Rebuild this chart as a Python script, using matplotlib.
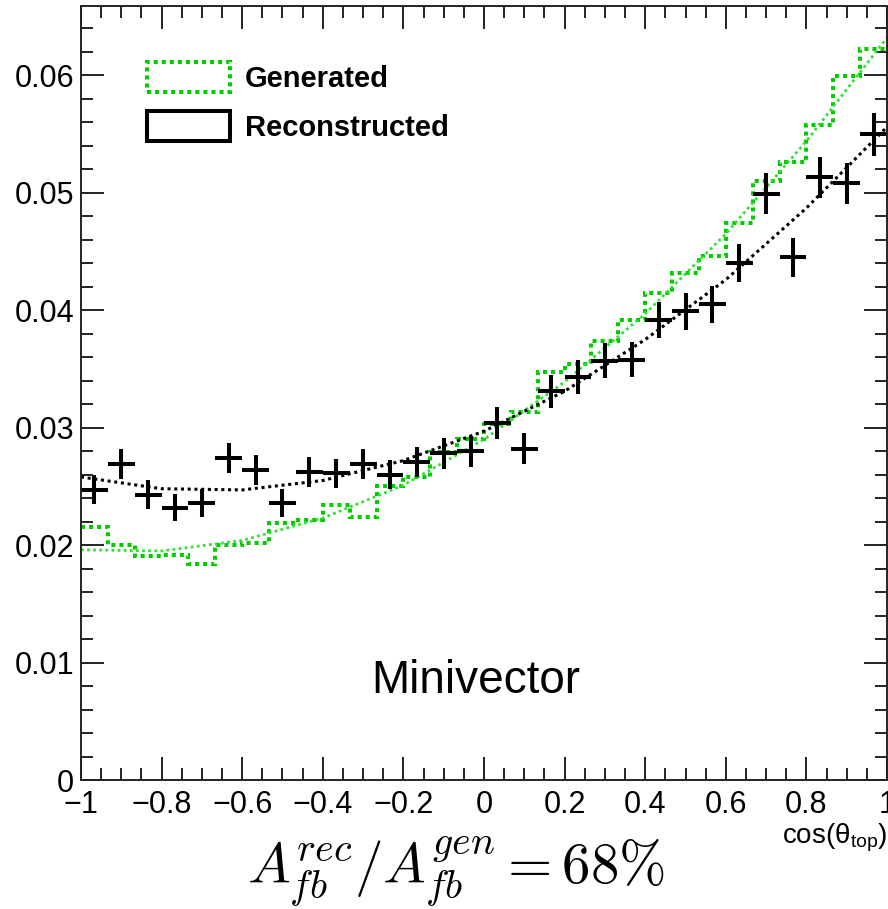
import numpy as np
import matplotlib.pyplot as plt
from matplotlib.patches import Rectangle
from matplotlib.ticker import MultipleLocator, FuncFormatter

plt.rcParams['font.family'] = ['Liberation Sans', 'DejaVu Sans']
plt.rcParams['mathtext.fontset'] = 'custom'
plt.rcParams['mathtext.rm'] = 'Liberation Sans'
plt.rcParams['mathtext.it'] = 'Liberation Sans:italic'

# 30 bins in cos(theta_top)
bin_edges = np.linspace(-1, 1, 31)

generated = [0.0215, 0.0200, 0.0191, 0.0192, 0.0184, 0.0200, 0.0202, 0.0219, 0.0221, 0.0234,
             0.0224, 0.0250, 0.0258, 0.0279, 0.0290, 0.0303, 0.0313, 0.0347, 0.0354, 0.0374,
             0.0392, 0.0415, 0.0432, 0.0446, 0.0474, 0.0510, 0.0526, 0.0558, 0.0599, 0.0622]

reconstructed = [0.0247, 0.0269, 0.0243, 0.0232, 0.0236, 0.0274, 0.0264, 0.0236, 0.0262, 0.0261,
                 0.0269, 0.0260, 0.0271, 0.0278, 0.0280, 0.0304, 0.0282, 0.0331, 0.0343, 0.0357,
                 0.0358, 0.0392, 0.0399, 0.0405, 0.0440, 0.0499, 0.0445, 0.0513, 0.0508, 0.0550]

rec_err = [0.00123, 0.00128, 0.00122, 0.00119, 0.00120, 0.00129, 0.00127, 0.00120, 0.00126, 0.00126,
           0.00128, 0.00126, 0.00128, 0.00130, 0.00131, 0.00136, 0.00131, 0.00142, 0.00144, 0.00147,
           0.00148, 0.00154, 0.00156, 0.00157, 0.00164, 0.00174, 0.00165, 0.00177, 0.00176, 0.00183]

# fit curves
fit_x = [-1.0, -0.8, -0.6, -0.4, -0.2, 0.0, 0.2, 0.4, 0.6, 0.8, 1.0]
gen_fit = [0.0196, 0.0195, 0.0204, 0.0223, 0.0251, 0.0290, 0.0339, 0.0397, 0.0465, 0.0544, 0.0632]
rec_fit = [0.0258, 0.0248, 0.0247, 0.0255, 0.0272, 0.0297, 0.0331, 0.0375, 0.0426, 0.0487, 0.0556]

centers = 0.5 * (bin_edges[:-1] + bin_edges[1:])
half_w = 0.5 * (bin_edges[1] - bin_edges[0])

green = '#00cc00'

fig = plt.figure(figsize=(8.88, 9.09), dpi=100)
ax = fig.add_axes([0.0912, 0.1419, 0.9077, 0.8515])

ax.stairs(generated, bin_edges, baseline=None, color=green, lw=2.9, linestyle=(0, (1, 1)))
ax.plot(fit_x, gen_fit, color='#33e033', lw=2.0, linestyle=(0, (1, 1.2)))
ax.plot(fit_x, rec_fit, color='black', lw=2.2, linestyle=(0, (1, 1.2)))
ax.errorbar(centers, reconstructed, yerr=rec_err, xerr=half_w, fmt='none',
            ecolor='black', elinewidth=2.9, capsize=0)

ax.set_xlim(-1, 1)
ax.set_ylim(0, 0.0659)
ax.xaxis.set_major_locator(MultipleLocator(0.2))
ax.xaxis.set_minor_locator(MultipleLocator(0.05))
ax.yaxis.set_major_locator(MultipleLocator(0.01))
ax.yaxis.set_minor_locator(MultipleLocator(0.002))


def fmt(v, pos):
    if abs(v) < 1e-9:
        return '0'
    return f'{round(v, 3):g}'.replace('-', '\u2212')


ax.xaxis.set_major_formatter(FuncFormatter(fmt))
ax.yaxis.set_major_formatter(FuncFormatter(fmt))

for s in ax.spines.values():
    s.set_linewidth(1.4)
    s.set_color('#222222')
ax.tick_params(which='both', direction='in', top=True, right=True, width=1.4, color='#222222')
ax.tick_params(which='major', length=16.5)
ax.tick_params(which='minor', length=8.6)
ax.tick_params(axis='x', labelsize=22, pad=7)
ax.tick_params(axis='y', labelsize=22, pad=5)

h_gen = Rectangle((0, 0), 1, 1, facecolor='none', edgecolor=green, lw=2.9, linestyle=(0, (1, 1)))
h_rec = Rectangle((0, 0), 1, 1, facecolor='none', edgecolor='black', lw=2.9)
ax.legend([h_gen, h_rec], ['Generated', 'Reconstructed'], loc='upper left',
          bbox_to_anchor=(0.0819, 0.9276), frameon=False,
          prop={'weight': 'bold', 'size': 21}, handlelength=2.84, handleheight=1.2,
          handletextpad=0.52, labelspacing=0.62, borderpad=0, borderaxespad=0)

ax.text(-0.02, 0.0074, 'Minivector', fontsize=33, ha='center', va='baseline')

fig.text(0.9995, 1 - 843 / 909, r'cos(θ$_{\mathrm{top}}$)', ha='right', va='baseline', fontsize=20)
fig.text(0.5135, 0.028, r'$A_{fb}^{rec}/A_{fb}^{gen} = 68\%$', fontsize=41,
         math_fontfamily='cm', ha='center', va='baseline')

fig.savefig('out.png', dpi=100)
